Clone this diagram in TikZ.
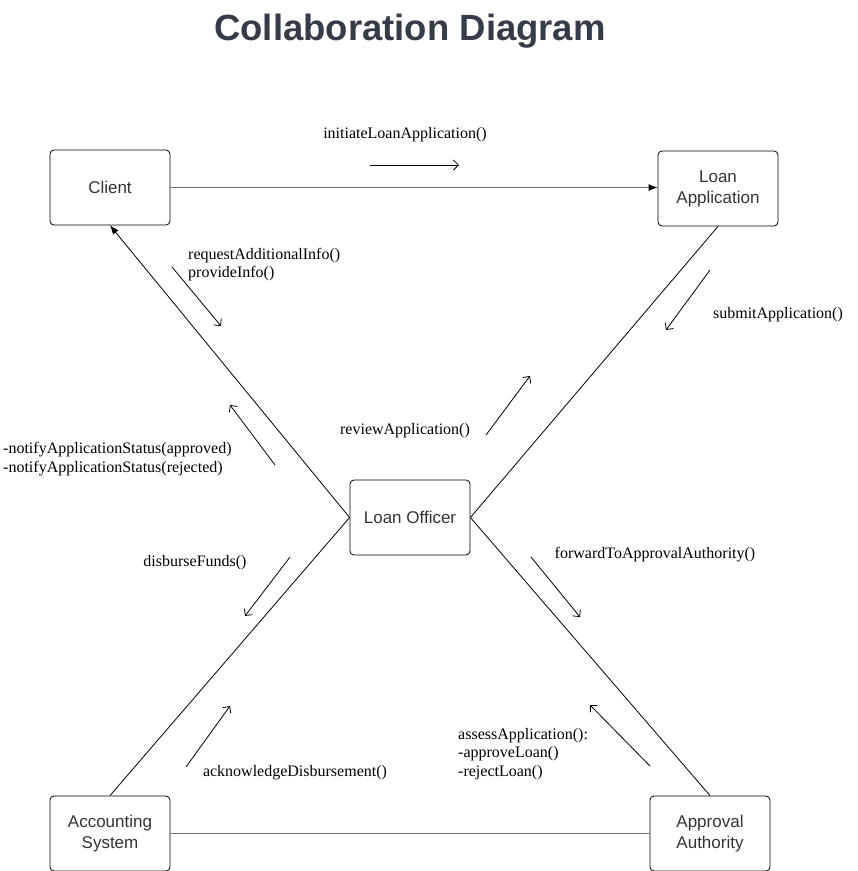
\documentclass[tikz,border=0pt]{standalone}
\usepackage{fontspec}
\setmainfont{Liberation Serif}
\newfontfamily\boxfont{Liberation Sans}
\usepackage{tikz}
\usetikzlibrary{arrows.meta}
\definecolor{titlegray}{HTML}{363C47}
\definecolor{boxtext}{HTML}{333333}

\begin{document}
\begin{tikzpicture}[x=1pt,y=-1pt,
  obj/.style={draw, rounded corners=4pt, line width=0.8pt, minimum width=120pt, minimum height=75pt, align=center, font=\boxfont\fontsize{17}{21}\selectfont, text=boxtext},
  link/.style={line width=0.8pt},
  flat/.style={draw=black!55, line width=1.2pt},
  msg/.style={-{Straight Barb[length=5pt,width=10pt]}, line width=0.8pt},
  lbl/.style={inner sep=0pt, align=left, font=\fontsize{16}{18.8}\selectfont}]
 \useasboundingbox (0,0) rectangle (858,871);
 \node[font=\boxfont\bfseries\fontsize{36.5}{40}\selectfont, text=titlegray] (title) at (410,31) {Collaboration Diagram};

 % objects
 \node[obj] (client) at (110,187.5) {Client};
 \node[obj] (loanapp) at (718,188.5) {Loan\\Application};
 \node[obj] (officer) at (410,517.5) {Loan Officer};
 \node[obj] (accounting) at (110,833.5) {Accounting\\System};
 \node[obj] (approval) at (710,833.5) {Approval\\Authority};

 % links
 \draw[flat, -{Latex[length=9pt,width=7pt,black]}] (client) -- (loanapp.west|-client);
 \draw[link, -{Latex[length=9pt,width=7pt]}] (officer.west) -- (client.south);
 \draw[link] (loanapp.south) -- (officer.east);
 \draw[link] (officer.west) -- (accounting.north);
 \draw[link] (officer.east) -- (approval.north);
 \draw[flat] (accounting.east|-approval) -- (approval);

 % messages
 \coordinate (m1a) at (370,165); \coordinate (m1b) at (459,165);
 \coordinate (m2a) at (172,267); \coordinate (m2b) at (221,326);
 \coordinate (m3a) at (710,270); \coordinate (m3b) at (666,330);
 \coordinate (m4a) at (486,435); \coordinate (m4b) at (530,376);
 \coordinate (m5a) at (275,465); \coordinate (m5b) at (230,405);
 \coordinate (m6a) at (290,557); \coordinate (m6b) at (245,616);
 \coordinate (m7a) at (531,557); \coordinate (m7b) at (580,617);
 \coordinate (m8a) at (186,767); \coordinate (m8b) at (230,706);
 \coordinate (m9a) at (650,766); \coordinate (m9b) at (590,705);
 \foreach \m in {m1,m2,m3,m4,m5,m6,m7,m8,m9}
  \draw[msg] (\m a) -- (\m b);

 % message labels
 \node[lbl] (initiate) at (405,135) {initiateLoanApplication()};
 \node[lbl, anchor=west] (request) at (188,264.5) {requestAdditionalInfo()\\provideInfo()};
 \node[lbl] (submit) at (778,315) {submitApplication()};
 \node[lbl] (review) at (405,431) {reviewApplication()};
 \node[lbl, anchor=west] (notify) at (3,459) {-notifyApplicationStatus(approved)\\-notifyApplicationStatus(rejected)};
 \node[lbl] (disburse) at (195,563) {disburseFunds()};
 \node[lbl] (forward) at (655,555) {forwardToApprovalAuthority()};
 \node[lbl] (acknowledge) at (295,773) {acknowledgeDisbursement()};
 \node[lbl, anchor=west] (assess) at (458,754) {assessApplication():\\-approveLoan()\\-rejectLoan()};
\end{tikzpicture}
\end{document}
